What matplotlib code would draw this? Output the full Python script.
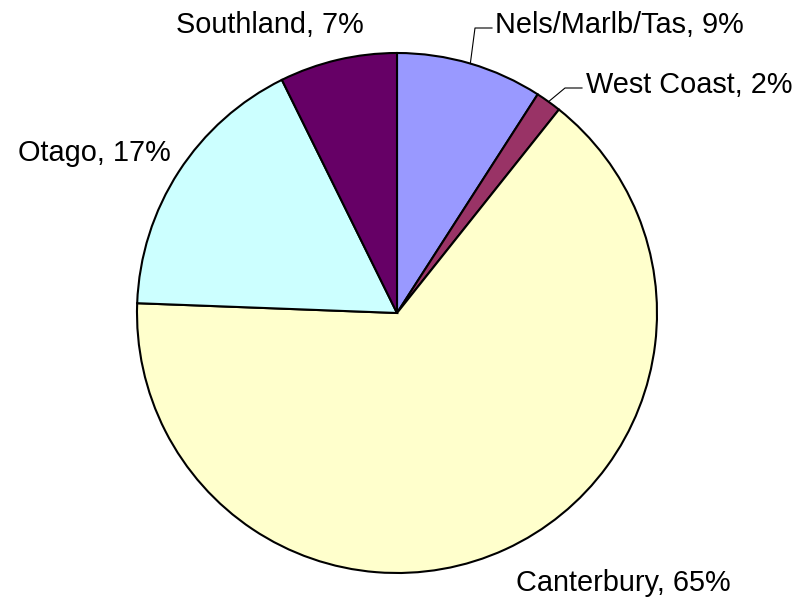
import numpy as np
import matplotlib
matplotlib.use("Agg")
import matplotlib.pyplot as plt

regions = ["Nels/Marlb/Tas", "West Coast", "Canterbury", "Otago", "Southland"]
shares = [9.1, 1.6, 64.9, 17.1, 7.3]
colors = ["#9999FF", "#993366", "#FFFFCC", "#CCFFFF", "#660066"]

# label anchor points in pixels (x, y from top), ha
label_pos = [(495, 25, "left"), (586, 85, "left"), (516, 583, "left"),
             (18, 153, "left"), (176, 25, "left")]
# leader lines: (elbow, end) in pixels, None for no leader
leaders = [((475, 28), (492, 28)), ((565, 88), (582, 88)), None, None, None]

W, H = 801, 602
cx, cy, r = 397, 313, 260


def main():
    plt.rcParams['font.family'] = ['Liberation Sans', 'DejaVu Sans']
    fig = plt.figure(figsize=(W / 100, H / 100), dpi=100)
    ax = fig.add_axes([0, 0, 1, 1])

    wedges, _ = ax.pie(shares, colors=colors, startangle=90, counterclock=False,
                       center=(cx, H - cy), radius=r, frame=True,
                       wedgeprops=dict(edgecolor="black", linewidth=1.5))
    ax.set_xlim(0, W)
    ax.set_ylim(0, H)
    ax.set_aspect("equal")
    ax.axis("off")

    total = sum(shares)
    for i, (name, val) in enumerate(zip(regions, shares)):
        x, y, ha = label_pos[i]
        pct = int(round(val / total * 100))
        ax.text(x, H - y, f"{name}, {pct}%", fontsize=20.8, ha=ha,
                va="center", color="black")
        if leaders[i] is not None:
            w = wedges[i]
            mid = np.deg2rad((w.theta1 + w.theta2) / 2)
            sx = cx + r * np.cos(mid)
            sy = H - cy + r * np.sin(mid)
            (ex, ey), (tx, ty) = leaders[i]
            ax.plot([sx, ex, tx], [sy, H - ey, H - ty], color="black",
                    linewidth=0.8)

    fig.savefig("out.png", dpi=100)


if __name__ == "__main__":
    main()
